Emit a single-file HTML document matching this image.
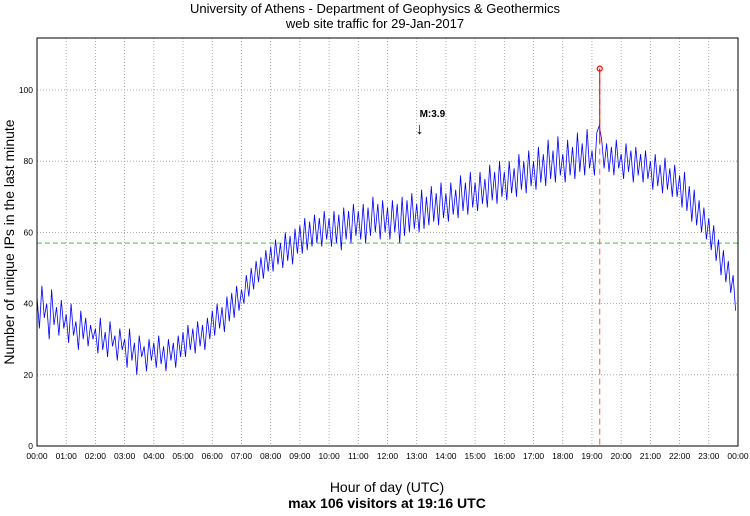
<!DOCTYPE html>
<html><head><meta charset="utf-8"><style>
body{margin:0;background:#fff;font-family:"Liberation Sans",sans-serif}
svg text{font-family:"Liberation Sans",sans-serif}
</style></head><body>
<svg id="c" width="750" height="511" xmlns="http://www.w3.org/2000/svg">
<text x="375" y="13" font-size="13" text-anchor="middle">University of Athens - Department of Geophysics &amp; Geothermics</text>
<text x="375" y="28" font-size="13" text-anchor="middle">web site traffic for 29-Jan-2017</text>
<text x="387" y="492" font-size="14" text-anchor="middle">Hour of day (UTC)</text>
<text x="387" y="508" font-size="14" font-weight="bold" text-anchor="middle">max 106 visitors at 19:16 UTC</text>
<text transform="translate(14,242) rotate(-90)" font-size="14" text-anchor="middle">Number of unique IPs in the last minute</text>
<g id="grid"></g><g id="ser"></g><g id="ax"></g>
</svg>
<script>
const xTicks=["00:00","01:00","02:00","03:00","04:00","05:00","06:00","07:00","08:00","09:00","10:00","11:00","12:00","13:00","14:00","15:00","16:00","17:00","18:00","19:00","20:00","21:00","22:00","23:00","00:00"];
const yTicks=[0,20,40,60,80,100];
const visitors=[
42,33,45,36,40,30,44,34,39,31,41,33,
37,29,40,31,35,27,38,30,36,28,34,30,
33,26,36,27,32,25,35,28,31,24,33,27,
30,22,33,24,29,20,31,25,28,21,30,24,
29,22,31,23,28,21,30,24,29,22,31,25,
32,25,34,27,33,26,35,28,34,27,36,30,
38,31,40,33,39,32,42,35,43,36,45,38,
44,40,48,42,50,44,52,46,53,47,55,49,
56,49,58,51,57,50,60,52,59,51,61,54,
62,54,64,55,63,56,65,57,64,56,66,58,
64,56,66,57,65,55,67,58,66,57,68,59,
66,58,68,57,67,59,70,60,68,58,69,60,
67,58,69,60,68,57,70,59,69,60,71,61,
68,60,72,61,70,62,73,63,71,62,74,64,
71,63,74,65,72,64,76,66,74,65,77,67,
74,66,77,68,75,67,79,69,77,68,80,70,
77,69,80,71,78,70,82,72,80,71,83,73,
80,72,84,74,82,73,86,75,83,74,87,76,
82,74,86,76,84,75,88,77,85,76,89,78,
83,76,88,90,86,78,85,77,84,76,86,78,
82,75,85,77,83,74,84,76,82,74,83,75,
80,72,82,73,79,71,81,72,78,70,79,70,
76,67,77,66,73,63,72,62,69,60,67,58,
64,55,62,52,58,48,55,46,52,43,48,38];
const stepMin=5;
const maxMinute=19*60+16, maxValue=106;
const meanLevel=57;
const eqMinute=13*60+10, eqLabel="M:3.9";
const X0=37,X1=738,Y0=446,YT=38,YMAX=114.6;
const x=m=>X0+(X1-X0)*m/1440;
const y=v=>Y0-(Y0-YT)*v/YMAX;
const NS="http://www.w3.org/2000/svg";
function mk(p,t,a){const e=document.createElementNS(NS,t);for(const k in a)e.setAttribute(k,a[k]);p.appendChild(e);return e;}
const G=document.getElementById('grid'),S=document.getElementById('ser'),A=document.getElementById('ax');
mk(G,'rect',{x:X0,y:YT,width:X1-X0,height:Y0-YT,fill:'#fff',stroke:'none'});
xTicks.forEach((t,i)=>{const xx=x(i*60);
 const l=mk(G,'line',{x1:xx,y1:YT,x2:xx,y2:Y0,stroke:'#999','stroke-dasharray':'1,2','stroke-width':0.8});
 
 const tx=mk(A,'text',{x:xx,y:459,'font-size':8.5,'text-anchor':'middle'});tx.textContent=t;
 });
yTicks.forEach(v=>{const yy=y(v);
 const l=mk(G,'line',{x1:X0,y1:yy,x2:X1,y2:yy,stroke:'#999','stroke-dasharray':'1,2','stroke-width':0.8});
 
 const tx=mk(A,'text',{x:33,y:yy+3,'font-size':8.5,'text-anchor':'end'});tx.textContent=v;
 });
const ml=mk(S,'line',{x1:X0,y1:y(meanLevel),x2:X1,y2:y(meanLevel),stroke:'#22dd22','stroke-dasharray':'5,3','stroke-width':1});

let d='';visitors.forEach((v,i)=>{d+=(i?'L':'M')+x(i*stepMin).toFixed(1)+','+y(v).toFixed(1);});
const pl=mk(S,'path',{d:d,fill:'none',stroke:'#0000ff','stroke-width':0.8});

const rl=mk(S,'line',{x1:x(maxMinute),y1:y(maxValue),x2:x(maxMinute),y2:Y0,stroke:'#ff5555','stroke-dasharray':'6,4','stroke-width':1});

const sp=mk(S,'line',{x1:x(maxMinute),y1:y(maxValue),x2:x(maxMinute),y2:y(85),stroke:'#ee0000','stroke-width':1});

const mc=mk(S,'circle',{cx:x(maxMinute),cy:y(maxValue),r:2.5,fill:'none',stroke:'#ff0000','stroke-width':1.2});

const et=mk(S,'text',{x:x(eqMinute)-2,y:117,'font-size':10,'font-weight':'bold'});et.textContent=eqLabel;

const ea=mk(S,'text',{x:x(eqMinute)-6,y:134,'font-size':16});ea.textContent='↓';

const fr=mk(A,'rect',{x:X0,y:YT,width:X1-X0,height:Y0-YT,fill:'none',stroke:'#000','stroke-width':1});

</script>
</body></html>
